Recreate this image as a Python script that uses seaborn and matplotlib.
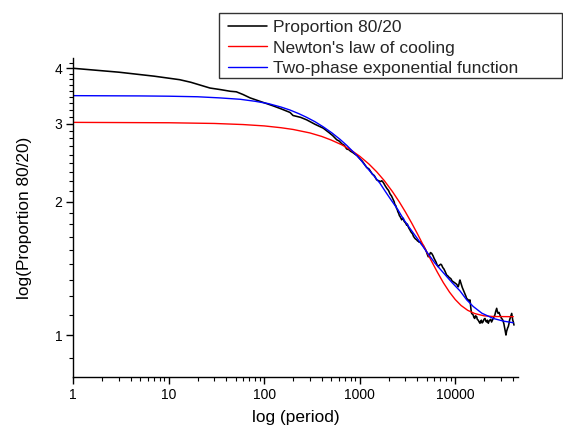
import numpy as np
import pandas as pd
import matplotlib
matplotlib.use("Agg")
import matplotlib.pyplot as plt
from matplotlib.ticker import FixedLocator, FixedFormatter, NullFormatter
from matplotlib.patches import Rectangle
import seaborn as sns

# ---- data ----
period_obs = [1, 1.5, 2, 3, 4.6, 7, 10, 13, 17, 21, 27, 35, 44, 51, 60, 71, 90, 106, 124,
              150, 186, 200, 240, 278, 340, 415, 480, 520, 573, 610, 650, 690, 729, 770,
              800, 850, 891, 940, 1000, 1060, 1120, 1181, 1250, 1350, 1420, 1503, 1580,
              1650, 1700, 1763, 1850, 1930,
              2000, 2080, 2150, 2243, 2290, 2330, 2380, 2432, 2470, 2500, 2560, 2600,
              2650, 2680, 2720, 2746, 2800, 2856, 2900, 2950, 3020, 3100, 3150, 3200,
              3280, 3357, 3430, 3500, 3580, 3650, 3720, 3785, 3870, 3950, 4030, 4100,
              4180, 4270, 4380, 4500, 4580, 4650, 4730, 4816, 4900, 5000, 5100, 5215,
              5300, 5400, 5500, 5656, 5750, 5850, 5920, 6000, 6150, 6300, 6450, 6637,
              6750, 6900, 7050, 7200, 7400, 7600, 7850, 8120, 8350, 8600, 8800, 9000,
              9250, 9530, 9750, 10000, 10200, 10400, 10600, 10750, 10900, 11000, 11100,
              11200, 11400, 11600, 11850, 12130, 12350, 12600, 12900, 13150, 13400,
              13700, 14000, 14260, 14400, 14500, 14700, 14850, 15100, 15400, 15700,
              16000, 16300, 16760, 17000, 17400, 17800, 18160, 18500, 18800, 19100,
              19500, 20000, 20480, 20900, 21300, 21700, 22180, 22600, 23000, 23500,
              24000, 24500, 25000, 25500, 26000, 26500, 27150, 27600, 28000, 28700,
              29400, 30000, 30500, 31200, 31840, 32300, 32800, 33400, 33960, 34500,
              35000, 35500, 35900, 36500, 37000, 37500, 38000, 38500, 39000, 39500,
              40000, 40600, 41200]
proportion = [4.00, 3.97, 3.95, 3.92, 3.88, 3.84, 3.80, 3.77, 3.72, 3.67, 3.61, 3.58, 3.55,
              3.54, 3.49, 3.43, 3.37, 3.33, 3.29, 3.24, 3.18, 3.13, 3.10, 3.06, 2.99, 2.93,
              2.86, 2.82, 2.76, 2.74, 2.70, 2.68, 2.63, 2.62, 2.60, 2.58, 2.56, 2.54, 2.50,
              2.47, 2.43, 2.39, 2.37, 2.31, 2.29, 2.24, 2.23, 2.22, 2.23, 2.21, 2.17, 2.14,
              2.12, 2.08, 2.06, 2.02, 2.00, 1.97, 1.96, 1.93, 1.92, 1.90, 1.88, 1.86,
              1.85, 1.84, 1.83, 1.82, 1.83, 1.835, 1.81, 1.80, 1.79, 1.77, 1.78, 1.76,
              1.74, 1.726, 1.71, 1.70, 1.69, 1.67, 1.66, 1.652, 1.645, 1.64, 1.63, 1.63,
              1.62, 1.624, 1.61, 1.60, 1.595, 1.59, 1.575, 1.569, 1.555, 1.54, 1.52, 1.502,
              1.51, 1.52, 1.535, 1.529, 1.52, 1.51, 1.50, 1.49, 1.475, 1.46, 1.44, 1.426,
              1.435, 1.44, 1.445, 1.439, 1.42, 1.41, 1.39, 1.366, 1.36, 1.35, 1.345, 1.34,
              1.325, 1.319, 1.315, 1.31, 1.305, 1.30, 1.29, 1.285, 1.30, 1.31, 1.325,
              1.331, 1.315, 1.30, 1.28, 1.264, 1.25, 1.24, 1.225, 1.21, 1.205,
              1.20, 1.195, 1.20, 1.18, 1.16, 1.13, 1.119, 1.115, 1.11, 1.095,
              1.09, 1.105, 1.10, 1.085, 1.08, 1.07, 1.063, 1.075, 1.08, 1.065,
              1.07, 1.085, 1.09, 1.075, 1.07, 1.08, 1.063, 1.075, 1.08, 1.085,
              1.07, 1.08, 1.09, 1.10, 1.11, 1.13, 1.149, 1.13, 1.12, 1.125,
              1.109, 1.10, 1.09, 1.085, 1.072, 1.06, 1.04, 1.02, 1.00, 1.02,
              1.03, 1.04, 1.044, 1.06, 1.08, 1.09, 1.10, 1.11, 1.119, 1.10,
              1.08, 1.07, 1.053]

period_newton = [1, 10, 30, 60, 100, 150, 200, 300, 400, 500, 650, 800, 1000, 1250, 1500,
                 1800, 2200, 2600, 3000, 3500, 4000, 4700, 5500, 6500, 7500, 8700, 10000,
                 11500, 13500, 16000, 20000, 25000, 40500]
newton = [3.020, 3.014, 3.003, 2.986, 2.965, 2.937, 2.911, 2.859, 2.807, 2.756, 2.687,
          2.619, 2.532, 2.431, 2.337, 2.233, 2.107, 1.996, 1.897, 1.789, 1.695, 1.584,
          1.483, 1.386, 1.313, 1.250, 1.2025, 1.166, 1.137, 1.118, 1.105, 1.101, 1.100]

period_two = [1, 5, 10, 20, 34, 56, 80, 110, 150, 186, 230, 278, 340, 415, 510, 621, 730,
              855, 1000, 1181, 1400, 1628, 1850, 2072, 2500, 2900, 3357, 4100, 5012, 6100,
              7490, 9200, 11200, 13200, 15420, 19000, 25000, 32000, 40500]
two_phase = [3.47, 3.465, 3.46, 3.45, 3.43, 3.405, 3.37, 3.33, 3.27, 3.22, 3.16, 3.10, 3.03,
             2.95, 2.86, 2.765, 2.68, 2.59, 2.50, 2.39, 2.29, 2.20, 2.11, 2.035, 1.92, 1.82,
             1.74, 1.64, 1.542, 1.455, 1.383, 1.315, 1.258, 1.20, 1.16, 1.12, 1.09, 1.075,
             1.066]

labels = ["Proportion 80/20", "Newton's law of cooling", "Two-phase exponential function"]
x_ticks = [1, 10, 100, 1000, 10000]
x_tick_labels = ["1", "10", "100", "1000", "10000"]
y_ticks = [1, 2, 3, 4]
y_tick_labels = ["1", "2", "3", "4"]

# ---- styling ----
sns.set_theme(style="ticks")
plt.rcParams['font.family'] = ['Liberation Sans', 'DejaVu Sans']

W, H = 563, 430
fig = plt.figure(figsize=(W / 100, H / 100), dpi=100)
ax = fig.add_axes([73.3 / W, 1 - 377 / H, (518 - 73.3) / W, (377 - 58) / H])

df_obs = pd.DataFrame({"x": period_obs, "y": proportion})
df_new = pd.DataFrame({"x": period_newton, "y": newton})
df_two = pd.DataFrame({"x": period_two, "y": two_phase})

sns.lineplot(data=df_obs, x="x", y="y", ax=ax, color="black", lw=1.15, sort=False,
             estimator=None, label=labels[0])
sns.lineplot(data=df_new, x="x", y="y", ax=ax, color="#ff0000", lw=1.0, sort=False,
             estimator=None, label=labels[1])
sns.lineplot(data=df_two, x="x", y="y", ax=ax, color="#0000ff", lw=1.0, sort=False,
             estimator=None, label=labels[2])

ax.set_xscale("log")
ax.set_yscale("log")
ax.set_xlim(1, 45400)
ax.set_ylim(0.804, 4.22)

ax.xaxis.set_major_locator(FixedLocator(x_ticks))
ax.xaxis.set_major_formatter(FixedFormatter(x_tick_labels))
xminor = [m * 10 ** d for d in range(0, 5) for m in range(2, 10) if m * 10 ** d < 45400]
ax.xaxis.set_minor_locator(FixedLocator(xminor))
ax.xaxis.set_minor_formatter(NullFormatter())

ax.yaxis.set_major_locator(FixedLocator(y_ticks))
ax.yaxis.set_major_formatter(FixedFormatter(y_tick_labels))
yminor = [k + j / 9 for k in range(0, 5) for j in range(1, 9)]
yminor = [v for v in yminor if 0.804 <= v <= 4.22]
ax.yaxis.set_minor_locator(FixedLocator(yminor))
ax.yaxis.set_minor_formatter(NullFormatter())

for s in ["top", "right"]:
    ax.spines[s].set_visible(False)
for s in ["left", "bottom"]:
    ax.spines[s].set_color("black")
    ax.spines[s].set_linewidth(1.0)

ax.tick_params(which="major", direction="out", length=5, width=1.0, color="black",
               labelsize=10, labelcolor="black", pad=3)
ax.tick_params(which="minor", direction="out", length=3, width=0.8, color="black")

ax.set_xlabel("log (period)", fontsize=12.4, color="black", labelpad=6)
ax.set_ylabel("log(Proportion 80/20)", fontsize=12.4, color="black", labelpad=16)

# legend frame drawn as a box spanning to the right edge
fig.patches.append(Rectangle((219 / W, 1 - 78 / H), (562 - 219) / W, (78 - 13) / H,
                             transform=fig.transFigure, facecolor="none",
                             edgecolor="#333333", linewidth=1.0, zorder=5))
leg = ax.legend(loc="upper left", bbox_to_anchor=(228 / W, 1 - 19.5 / H),
                bbox_transform=fig.transFigure, frameon=False,
                fontsize=12.5, borderaxespad=0, borderpad=0, handlelength=2.25,
                handletextpad=0.35, labelspacing=0.33)

fig.savefig("out.png", dpi=100)
